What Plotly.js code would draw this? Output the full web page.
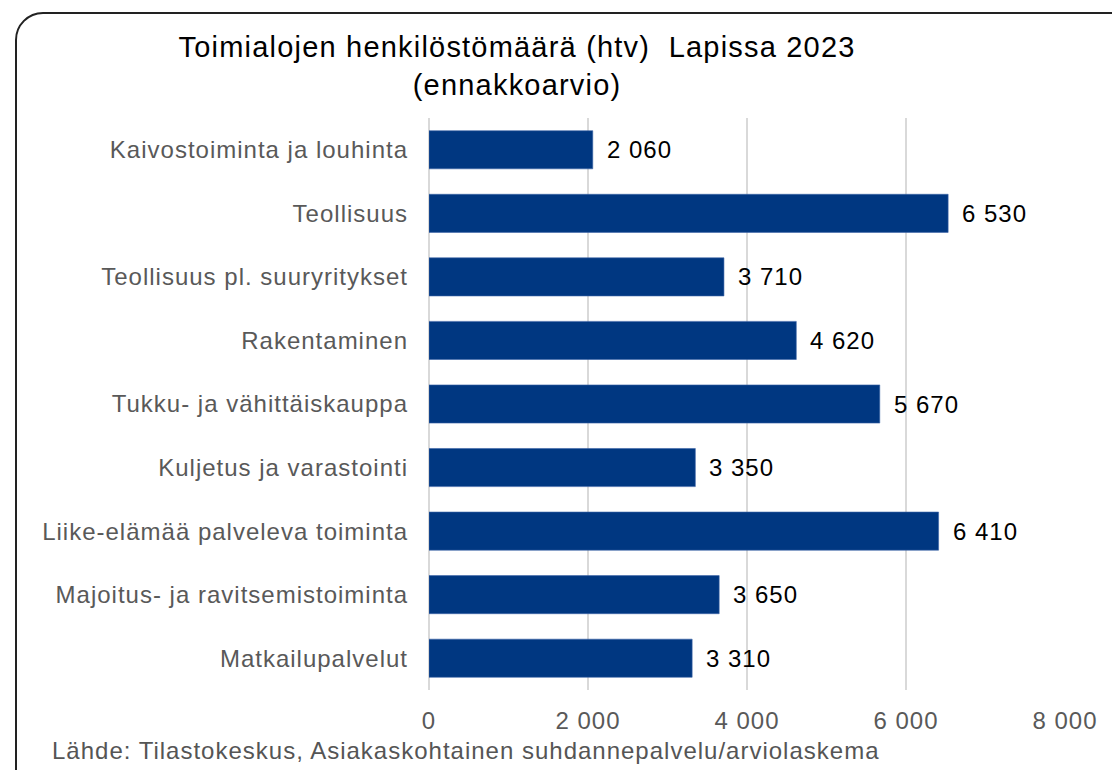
<!DOCTYPE html>
<html>
<head>
<meta charset="utf-8">
<script src="https://cdn.plot.ly/plotly-3.0.1.min.js"></script>
<style>
  html, body { margin: 0; padding: 0; background: #fff; overflow: hidden; }
  #frame {
    position: absolute; left: 15px; top: 12px; width: 1200px; height: 850px;
    border: 2px solid #222; border-radius: 28px; box-sizing: border-box;
  }
  #graph { position: absolute; left: 0; top: 0; width: 1112px; height: 770px; }
  /* global so plotly's hidden measuring svg sees the same spacing */
  svg text { letter-spacing: 1px; }
  svg text.gtitle { letter-spacing: 1.2px; }
</style>
</head>
<body>
<div id="frame"></div>
<div id="graph"></div>
<script>
const categories = [
  'Kaivostoiminta ja louhinta',
  'Teollisuus',
  'Teollisuus pl. suuryritykset',
  'Rakentaminen',
  'Tukku- ja vähittäiskauppa',
  'Kuljetus ja varastointi',
  'Liike-elämää palveleva toiminta',
  'Majoitus- ja ravitsemistoiminta',
  'Matkailupalvelut'
];
const values = [2060, 6530, 3710, 4620, 5670, 3350, 6410, 3650, 3310];
const tickVals = [0, 2000, 4000, 6000, 8000];

const fmt = v => String(v).replace(/\B(?=(\d{3})+(?!\d))/g, ' ');
const FONT = 'Liberation Sans, Arial, sans-serif';

const trace = {
  type: 'bar',
  orientation: 'h',
  y: categories,
  x: values,
  marker: { color: '#003781', line: { color: '#3c64a8', width: 0.6 } },
  hoverinfo: 'none'
};

// value labels at bar ends
const labels = values.map((v, i) => ({
  x: v, y: categories[i], xref: 'x', yref: 'y',
  text: fmt(v), showarrow: false, xanchor: 'left', xshift: 12,
  font: { family: FONT, size: 24, color: '#000' }
}));
labels.push({
  xref: 'paper', yref: 'paper', x: 0, y: 0, yanchor: 'top', xanchor: 'left',
  text: 'Lähde: Tilastokeskus, Asiakaskohtainen suhdannepalvelu/arviolaskema',
  showarrow: false, xshift: -379, yshift: -45,
  font: { family: FONT, size: 24, color: '#555' }
});

const layout = {
  width: 1112, height: 770,
  margin: { l: 429, r: 47, t: 118, b: 80 },
  paper_bgcolor: 'rgba(0,0,0,0)', plot_bgcolor: 'rgba(0,0,0,0)',
  bargap: 0.4,
  showlegend: false,
  title: {
    text: 'Toimialojen henkilöstömäärä (htv)  Lapissa 2023<br>(ennakkoarvio)',
    x: 0.465, xanchor: 'center', xref: 'container',
    y: 0.926, yanchor: 'top', yref: 'container',
    font: { family: FONT, size: 29, color: '#000' }
  },
  xaxis: {
    range: [0, 8000], tickvals: tickVals, ticktext: tickVals.map(fmt),
    showgrid: true, gridcolor: '#d9d9d9', gridwidth: 2,
    zeroline: true, zerolinecolor: '#d9d9d9', zerolinewidth: 2,
    showline: false, ticks: '', ticklabelstandoff: 14,
    tickfont: { family: FONT, size: 24, color: '#595959' },
    fixedrange: true
  },
  yaxis: {
    autorange: 'reversed', showgrid: false, zeroline: false, showline: false,
    ticks: '', ticklabelstandoff: 20,
    tickfont: { family: FONT, size: 24, color: '#595959' },
    fixedrange: true
  },
  annotations: labels
};

Plotly.newPlot('graph', [trace], layout, { displayModeBar: false, staticPlot: true });
</script>
</body>
</html>
